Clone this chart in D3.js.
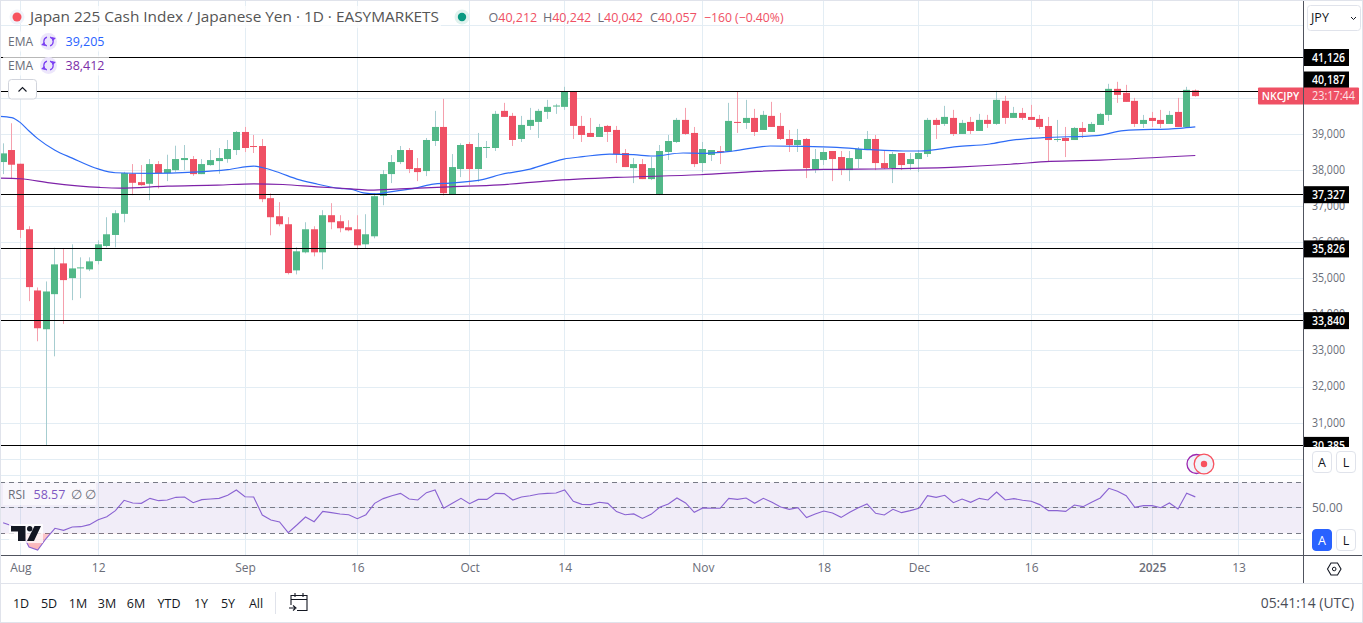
<!DOCTYPE html>
<html><head><meta charset="utf-8">
<script src="https://cdn.jsdelivr.net/npm/d3@7"></script>
<style>
html,body{margin:0;padding:0;background:#fff;overflow:hidden}
svg{display:block}
text{font-family:"Open Sans","Noto Sans",sans-serif}
</style></head><body><svg id="c" width="1363" height="623"></svg>
<script>
// ---- data (prices in JPY, first candle is index -2) ----
const firstIndex=-2;
const opens=[38231,38564,38184,36370,34675,33601,34573,35425,35018,35296,35259,35490,35907,36212,36796,37907,37675,37629,38175,37925,38008,38286,38314,37897,38147,38258,38314,38564,39064,38675,38675,37231,36731,36509,35231,35731,36370,35731,36759,36592,36425,36369,35953,36175,37296,37898,38231,38564,38064,37981,38814,39203,37333,38037,38731,38037,38630,38620,39648,39509,38870,39231,39342,39620,39777,39759,40185,39231,39037,38926,39231,39120,38481,38064,38175,37759,37333,38509,38787,39398,39037,38203,38426,38537,38527,39342,39314,39453,39120,39509,39231,38870,38703,38870,38037,38287,38537,38370,38009,38314,38564,38870,38203,38064,38481,38176,38314,38453,39398,39287,39453,39009,39342,39092,39398,39287,39926,39453,39591,39480,39425,39230,38841,38897,38841,39175,39064,39258,39536,40258,40147,39925,39286,39453,39397,39286,39619,39203,40212];
const closes=[38471,38157,36351,34768,33629,34647,35397,34962,35286,35314,35481,35953,36231,36814,37925,37656,37592,38175,37925,38036,38314,38342,37897,38175,38286,38342,38592,39064,38620,38647,37203,36703,36509,35157,35759,36370,35731,36759,36564,36398,36342,35925,36231,37286,37898,38231,38564,38037,37953,38842,39203,37370,38092,38703,38037,38648,38648,39565,39481,38842,39259,39398,39648,39759,39796,40176,39231,38981,38926,39203,39064,38453,38092,38175,37759,38064,38537,38814,39398,39009,38175,38592,38564,38500,39370,39314,39453,39064,39537,39203,38870,38703,38842,38064,38314,38509,38314,38009,38342,38592,38870,38203,38064,38453,38148,38314,38481,39398,39259,39481,39009,39315,39092,39398,39287,39953,39453,39591,39453,39397,39203,38841,38869,38814,39175,39064,39286,39564,40258,40091,39897,39286,39397,39369,39286,39536,39203,40230,40057];
const highs=[38749,39305,38184,36453,34758,34925,35860,35833,35953,35592,35592,36064,36703,36898,37960,38175,38147,38314,38258,38434,38684,38703,38397,38314,38564,38620,38842,39092,39203,38981,38870,37361,37120,36703,35870,36564,36453,36898,37092,36759,36620,36758,36786,37369,38009,38425,38676,38620,38342,38898,39648,39981,38453,38750,38787,39037,38814,39648,39870,39592,39509,39731,39703,39953,39842,40315,40185,39509,39453,39287,39259,39231,38592,38342,38314,38370,38703,38981,39453,39731,39203,38787,38564,38676,39870,40176,39953,39703,39648,39898,39592,39120,39148,38898,38592,38620,38537,38537,38537,38648,39092,38981,38537,38509,38481,38481,38564,39453,39453,39787,39676,39398,39481,39565,39537,40203,40065,39758,39730,39814,39536,39480,39397,39203,39203,39341,39341,39592,40397,40453,40369,40008,39536,39619,39675,39647,40008,40314,40242];
const lows=[37897,37758,36129,34379,33268,30397,32851,33749,34407,34462,35212,35397,35870,35870,36564,37314,37574,37175,37499,37703,37962,38008,37851,37897,38129,37907,38212,38425,38508,38481,37120,36203,36453,35120,35120,35703,35620,35259,36370,36286,36314,35814,35833,36119,37036,37648,38175,37925,37703,37842,38676,37305,37333,37814,37592,37685,38342,38537,39481,38676,38787,39120,38898,39426,39565,39676,38870,38787,38926,38926,38787,38203,38092,37648,37759,37731,37314,38287,38759,38981,38092,37953,38259,38175,38527,39037,39148,38953,39120,39203,38842,38509,38509,37787,37926,38148,37703,37870,37703,38064,38564,38009,38037,37648,38009,38009,37953,38370,38870,39231,38953,39009,39009,39092,39176,39259,39287,39453,39397,39397,39147,38258,38786,38369,38841,38897,39064,39258,39369,39869,39897,39203,39175,39203,39175,39286,39203,39203,40042];
const rsiValues=[38.3,36,32.6,19.3,16.9,26.1,33.9,32.3,35,35.2,36.8,40.7,43,47.8,55.9,53.8,53.5,57.4,55.6,56.1,58.2,58.5,54,56.4,56.9,57.4,59.8,64,58.7,58.5,44.3,40.4,38.9,30.5,36.5,42.8,39.1,47.2,46.2,45.1,44.6,41.5,44.6,53.5,57.2,59.5,61.3,56.9,56.1,61.9,64,49.6,53.5,57.4,53.2,56.6,56.6,61.3,61.1,56.1,58.5,59.5,60.8,61.3,61.6,64,55.1,52.7,52.5,54.3,53.5,47,44.6,45.2,41.7,44.9,50.4,53,57.7,53.8,46.5,49.9,49.6,49.6,57.4,56.6,57.7,53.5,57.4,54.3,50.6,48.8,50.1,42.3,45.2,47.5,45.9,42.5,46.5,50.1,53,45.7,44.4,48.8,46.2,47.8,49.6,59.5,58.2,59.8,54,56.9,54.3,57.4,56.1,62.4,56.1,57.2,55.9,55.1,52.5,47.8,47.8,47.2,52.2,50.9,54.3,57.7,65.3,62.9,59.5,50.4,51.7,51.7,50.1,53.8,49.1,61.4,58.57];
const emaFastIndex=[-2.4,-1,0,1,2,4,6,9,11,15,20,24,27,28,30,32,34,37,38.2,39.7,41.2,42.8,45.9,47.8,49.7,53.6,55.5,59,62.9,65.1,68.2,71,73.2,76.7,78.7,82.5,86.8,90.6,94.5,98.4,102.2,104.1,108.4,112.2,114.6,118.4,124.6,127.7,134.2,136];
const emaFastValues=[39499,39462,39323,39090,38880,38560,38340,38040,37934,37916,37950,38020,38120,38080,37934,37760,37640,37500,37481,37379,37351,37407,37518,37620,37648,37750,37879,38037,38314,38379,38453,38435,38398,38481,38472,38537,38676,38666,38638,38574,38537,38537,38657,38731,38833,38906,38962,39101,39166,39205];
const emaSlowIndex=[-2.4,0,3.4,9.2,11.5,17,22.8,27,30.4,34.3,38.2,40.5,44,49.7,55.5,61.3,69,78.7,85.3,93,100.7,108.4,114.6,119.2,125,136];
const emaSlowValues=[37786,37768,37656,37527,37508,37564,37592,37629,37610,37545,37490,37453,37490,37546,37601,37712,37805,37879,37972,38027,38046,38092,38170,38249,38286,38412];
const levels=[41126,40187,37327,35826,33840,30385];
const priceTicks=[39000,38000,37000,36000,35000,34000,33000,32000,31000];
const gridPrices=[42000,40000,39000,38000,37000,36000,35000,34000,33000,32000,31000,30000];
const timeTickIndex=[0,9,26,39,52,63,79,93,104,117,131,141];
const timeTickLabels=["Aug","12","Sep","16","Oct","14","Nov","18","Dec","16","2025","13"];
const rangeLabels=["1D","5D","1M","3M","6M","YTD","1Y","5Y","All"];
const ohlcParts=[["O","40,212"],["H","40,242"],["L","40,042"],["C","40,057"]];

// ---- scales ----
const x=d3.scaleLinear().domain([0,136]).range([20.4,1195.3]);
const y=d3.scaleLinear().domain([41126,30000]).range([57.5,459.3]);
const yr=d3.scaleLinear().domain([70,30]).range([482.3,533.3]);
const snap=v=>Math.floor(v)+0.5;
const axisX=1303.5, timeY=555.5;
const GRID="#e3edf4",RED="#ef5064",GREEN="#52b888",REDW="#f5a0ad",GREENW="#a6cdd0",GRAY="#6a6d78",DARK="#131722";

const svg=d3.select("#c");
const defs=svg.append("defs");
defs.append("clipPath").attr("id","pane").append("rect").attr("x",0).attr("y",0).attr("width",axisX).attr("height",timeY);
defs.append("clipPath").attr("id","mainPane").append("rect").attr("x",0).attr("y",0).attr("width",axisX).attr("height",447);
defs.append("clipPath").attr("id","below30").append("rect").attr("x",0).attr("y",yr(30)).attr("width",200).attr("height",30);
const grad=defs.append("linearGradient").attr("id","os").attr("x1",0).attr("x2",0).attr("y1",0).attr("y2",1);
grad.append("stop").attr("offset",0).attr("stop-color","#f23645").attr("stop-opacity",0);
grad.append("stop").attr("offset",1).attr("stop-color","#f23645").attr("stop-opacity",.38);

// grid
const g=svg.append("g");
g.selectAll(".h").data(gridPrices).join("line").attr("x1",0).attr("x2",axisX)
 .attr("y1",d=>snap(y(d))).attr("y2",d=>snap(y(d))).attr("stroke",GRID);
g.selectAll(".rg").data([75,50,25]).join("line").attr("x1",0).attr("x2",axisX)
 .attr("y1",d=>snap(yr(d))).attr("y2",d=>snap(yr(d))).attr("stroke",GRID);
g.selectAll(".v").data(timeTickIndex).join("line").attr("y1",0).attr("y2",timeY)
 .attr("x1",d=>snap(x(d))).attr("x2",d=>snap(x(d))).attr("stroke",GRID);

// RSI band
svg.append("rect").attr("x",0).attr("y",yr(70)).attr("width",axisX).attr("height",yr(30)-yr(70)).attr("fill","#7e57c2").attr("opacity",.11);
svg.selectAll(".dash").data([70,50,30]).join("line").attr("x1",0).attr("x2",axisX)
 .attr("y1",d=>snap(yr(d))).attr("y2",d=>snap(yr(d))).attr("stroke","#787b86").attr("stroke-dasharray","5 4");

// candles
const idx=opens.map((_,i)=>i+firstIndex);
const cg=svg.append("g").attr("clip-path","url(#mainPane)");
cg.selectAll(".w").data(idx).join("line")
 .attr("x1",i=>snap(x(i))).attr("x2",i=>snap(x(i)))
 .attr("y1",(i,k)=>y(highs[k])).attr("y2",(i,k)=>y(lows[k]))
 .attr("stroke",(i,k)=>closes[k]>=opens[k]?GREENW:REDW);
cg.selectAll(".b").data(idx).join("rect")
 .attr("x",i=>Math.floor(x(i))-3).attr("width",7)
 .attr("y",(i,k)=>y(Math.max(opens[k],closes[k])))
 .attr("height",(i,k)=>Math.max(1,Math.abs(y(opens[k])-y(closes[k]))))
 .attr("fill",(i,k)=>closes[k]>=opens[k]?GREEN:RED);

// EMA lines
const lineOf=(xs,vs,color)=>{
 const pts=xs.map((a,k)=>[a,vs[k]]);
 svg.append("path").datum(pts).attr("fill","none").attr("stroke",color).attr("stroke-width",1.2)
  .attr("clip-path","url(#pane)")
  .attr("d",d3.line().x(d=>x(d[0])).y(d=>y(d[1])).curve(d3.curveMonotoneX));
};
lineOf(emaFastIndex,emaFastValues,"#2e6cf6");
lineOf(emaSlowIndex,emaSlowValues,"#7e22a8");

// level lines
svg.selectAll(".lvl").data(levels).join("line").attr("x1",0).attr("x2",axisX)
 .attr("y1",d=>snap(y(d))).attr("y2",d=>snap(y(d))).attr("stroke","#000").attr("stroke-width",1.2);

// RSI line
const rsiPts=rsiValues.map((v,k)=>[k+firstIndex,v]);
svg.append("path").datum(rsiPts).attr("fill","url(#os)").attr("clip-path","url(#below30)")
 .attr("d",d3.area().x(d=>x(d[0])).y0(yr(30)).y1(d=>yr(d[1])));
svg.append("path").datum(rsiPts).attr("fill","none").attr("stroke","#8a63d2").attr("stroke-width",1.1)
 .attr("clip-path","url(#pane)")
 .attr("d",d3.line().x(d=>x(d[0])).y(d=>yr(d[1])));

// TV logo
const logo=svg.append("g");
logo.append("rect").attr("x",9).attr("y",524).attr("width",34).attr("height",19).attr("fill","#fff").attr("opacity",.75);
logo.append("path").attr("fill",DARK).attr("d","M11,526H25.5V541H18V531.5H11Z");
logo.append("circle").attr("fill",DARK).attr("cx",29.7).attr("cy",528.7).attr("r",2.7);
logo.append("path").attr("fill",DARK).attr("d","M34.5,526H41L34,541H27Z");

// axes
svg.append("rect").attr("x",axisX).attr("y",0).attr("width",60).attr("height",timeY).attr("fill","#fff");
const priceAxis=d3.axisRight(y).tickValues(priceTicks).tickSize(0).tickPadding(8.5).tickFormat(d3.format(","));
const pa=svg.append("g").attr("transform",`translate(${axisX},-1)`).call(priceAxis);
pa.select(".domain").remove();
pa.selectAll("text").attr("font-size",12).attr("fill",GRAY).attr("textLength",33).attr("lengthAdjust","spacingAndGlyphs");
const rsiAxis=d3.axisRight(yr).tickValues([50]).tickSize(0).tickPadding(8.5).tickFormat(d3.format(".2f"));
const ra=svg.append("g").attr("transform",`translate(${axisX},0)`).call(rsiAxis);
ra.select(".domain").remove();
ra.selectAll("text").attr("font-size",12).attr("fill",GRAY);

const tickLabel=d3.scaleOrdinal().domain(timeTickIndex).range(timeTickLabels);
const timeAxis=d3.axisBottom(x).tickValues(timeTickIndex).tickSize(0).tickPadding(8).tickFormat(d=>tickLabel(d));
const ta=svg.append("g").attr("transform",`translate(0,${timeY})`).call(timeAxis);
ta.select(".domain").remove();
ta.selectAll("text").attr("font-size",12).attr("fill",GRAY)
  .attr("font-weight",d=>tickLabel(d)==="2025"?600:400);

// level tags (second one is pushed up by the live price tag)
const tagY=d=>d===40187?80:y(d);
const tags=svg.append("g");
levels.forEach(v=>{
 tags.append("rect").attr("x",axisX).attr("y",tagY(v)-8.5).attr("width",45.5).attr("height",17).attr("fill","#000");
 tags.append("text").attr("x",axisX+8.5).attr("y",tagY(v)+4.3).attr("font-size",12).attr("font-weight",600).attr("fill","#fff")
  .attr("textLength",33).attr("lengthAdjust","spacingAndGlyphs").text(d3.format(",")(v));
});
const py=y(closes[closes.length-1]);
tags.append("rect").attr("x",1258).attr("y",py-8.5).attr("width",45.5).attr("height",17).attr("rx",1).attr("fill",RED);
tags.append("rect").attr("x",axisX).attr("y",py-8.5).attr("width",55.5).attr("height",17).attr("rx",1).attr("fill",RED);
tags.append("text").attr("x",1261.7).attr("y",py+4.3).attr("font-size",11.5).attr("font-weight",600).attr("fill","#fff")
 .attr("textLength",37.5).attr("lengthAdjust","spacingAndGlyphs").text("NKCJPY");
tags.append("text").attr("x",axisX+8.5).attr("y",py+4.3).attr("font-size",12).attr("fill","#fde3e6")
 .attr("textLength",43).attr("lengthAdjust","spacingAndGlyphs").text("23:17:44");

// pane covers / borders
svg.append("rect").attr("x",axisX+.5).attr("y",447).attr("width",60).attr("height",timeY-447).attr("fill","#fff");
ra.raise();
const line=(x1,y1,x2,y2,c)=>svg.append("line").attr("x1",x1).attr("y1",y1).attr("x2",x2).attr("y2",y2).attr("stroke",c);
line(axisX,0,axisX,583,"#50535e");
line(0,timeY,1363,timeY,"#50535e");
line(0,583.5,1363,583.5,"#e0e3eb");
line(0,622.5,1363,622.5,"#e0e3eb");
line(0,.5,1363,.5,"#e0e3eb");
line(.5,0,.5,623,"#e0e3eb");
line(1362.5,0,1362.5,623,"#e0e3eb");

// header legend
const hdr=svg.append("g");
hdr.append("circle").attr("cx",17).attr("cy",17).attr("r",7.5).attr("fill","#f0f3fa");
hdr.append("circle").attr("cx",17).attr("cy",17).attr("r",4.5).attr("fill","#f7525f");
hdr.append("rect").attr("x",28).attr("y",6).attr("width",413).attr("height",22).attr("fill","#fff").attr("opacity",.7);
hdr.append("text").attr("x",30).attr("y",22).attr("font-size",14.8).attr("fill","#555")
 .attr("textLength",409).attr("lengthAdjust","spacingAndGlyphs").text("Japan 225 Cash Index / Japanese Yen · 1D · EASYMARKETS");
hdr.append("circle").attr("cx",462).attr("cy",17).attr("r",7.5).attr("fill","#e0f2ee");
hdr.append("circle").attr("cx",462).attr("cy",17).attr("r",4.2).attr("fill","#089981");
const ohlcStart=[488.5,543,597.5,650];
ohlcParts.forEach((p,k)=>{
 const t=hdr.append("text").attr("x",ohlcStart[k]).attr("y",21.5).attr("font-size",12.5);
 t.append("tspan").attr("fill",GRAY).text(p[0]);
 t.append("tspan").attr("fill",RED).text(p[1]);
});
hdr.append("text").attr("x",704).attr("y",21.5).attr("font-size",12.5).attr("fill",RED)
 .attr("textLength",79.5).attr("lengthAdjust","spacingAndGlyphs").text("−160 (−0.40%)");

// EMA legend rows
function refreshIcon(cx,cy){
 const s=svg.append("g").attr("transform",`translate(${cx},${cy})`);
 s.append("circle").attr("r",8.5).attr("fill","#ece6fb");
 const arc=d3.arc().innerRadius(4.1).outerRadius(5.3);
 s.append("path").attr("fill","#7a3ff2").attr("d",arc({startAngle:0.35,endAngle:2.8}));
 s.append("path").attr("fill","#7a3ff2").attr("d",arc({startAngle:3.5,endAngle:5.95}));
 s.append("path").attr("fill","#7a3ff2").attr("d","M3.2,-4.6L7.4,-3.4L4.4,-0.6Z");
 s.append("path").attr("fill","#7a3ff2").attr("d","M-3.2,4.6L-7.4,3.4L-4.4,0.6Z");
}
[[41.5,"39,205","#2962ff"],[65.5,"38,412","#7b2ea8"]].forEach(r=>{
 svg.append("rect").attr("x",3).attr("y",r[0]-10).attr("width",106).attr("height",20).attr("fill","#fff").attr("opacity",.72);
 svg.append("text").attr("x",8).attr("y",r[0]+4.3).attr("font-size",12).attr("fill",GRAY).text("EMA");
 refreshIcon(48.5,r[0]);
 svg.append("text").attr("x",65.5).attr("y",r[0]+4.3).attr("font-size",12.5).attr("fill",r[2]).text(r[1]);
});
// collapse button
svg.append("rect").attr("x",8.5).attr("y",79.5).attr("width",28).attr("height",19.5).attr("rx",3).attr("fill","#fff").attr("stroke","#d1d4dc");
svg.append("path").attr("d","M18.5,91.5L22.5,87.5L26.5,91.5").attr("fill","none").attr("stroke",DARK).attr("stroke-width",1.1);

// RSI legend
svg.append("rect").attr("x",3).attr("y",483).attr("width",93).attr("height",22).attr("fill","#fff").attr("opacity",.55);
svg.append("text").attr("x",8).attr("y",498.5).attr("font-size",12).attr("fill",GRAY).text("RSI");
svg.append("text").attr("x",33.5).attr("y",498.5).attr("font-size",12.5).attr("fill","#7e57c2").text(rsiValues[rsiValues.length-1].toFixed(2));
svg.append("text").attr("x",76).attr("y",498.5).attr("text-anchor","middle").attr("font-size",12.5).attr("fill",GRAY).text("∅");
svg.append("text").attr("x",90).attr("y",498.5).attr("text-anchor","middle").attr("font-size",12.5).attr("fill",GRAY).text("∅");

// JPY select
svg.append("rect").attr("x",1307.5).attr("y",5.5).attr("width",53).attr("height",25).attr("rx",3).attr("fill","#fff").attr("stroke","#e0e3eb");
svg.append("text").attr("x",1311).attr("y",22).attr("font-size",12.5).attr("fill",DARK).text("JPY");
svg.append("path").attr("d","M1351,17L1353.5,19.5L1356,17").attr("fill","none").attr("stroke",DARK);

// marker circles
svg.append("circle").attr("cx",1196.5).attr("cy",464).attr("r",9.5).attr("fill","#f0f3fa").attr("stroke","#9c27b0").attr("stroke-width",1.3);
svg.append("circle").attr("cx",1204).attr("cy",464).attr("r",9.8).attr("fill","#f0f3fa").attr("stroke","#f7525f").attr("stroke-width",1.3);
svg.append("circle").attr("cx",1204).attr("cy",464).attr("r",3.2).attr("fill","#f7525f");

// A / L buttons
function btn(x0,y0,label,on){
 svg.append("rect").attr("x",x0+.5).attr("y",y0+.5).attr("width",19).attr("height",21).attr("rx",3.5)
  .attr("fill",on?"#2962ff":"#fff").attr("stroke",on?"#2962ff":"#e0e3eb");
 svg.append("text").attr("x",x0+10).attr("y",y0+15.5).attr("text-anchor","middle").attr("font-size",12.5).attr("fill",on?"#fff":DARK).text(label);
}
btn(1312,451,"A",false);btn(1336,451,"L",false);
btn(1312,529,"A",true);btn(1336,529,"L",false);

// settings hexagon
svg.append("path").attr("d","M1327.5,569L1331,563H1337.5L1341,569L1337.5,575H1331Z").attr("fill","none").attr("stroke",DARK).attr("stroke-width",1.1);
svg.append("circle").attr("cx",1334.2).attr("cy",569).attr("r",1.8).attr("fill","none").attr("stroke",DARK);

// bottom toolbar
const rangeCenters=[21,49,78,107,136,169,201,228,256];
svg.selectAll(".rb").data(rangeLabels).join("text").attr("x",(d,i)=>rangeCenters[i]).attr("y",607.5)
 .attr("text-anchor","middle").attr("font-size",12.5).attr("fill",DARK).text(d=>d);
line(275.5,592,275.5,614,"#e0e3eb");
svg.append("path").attr("fill","none").attr("stroke",DARK).attr("stroke-width",1.1)
 .attr("d","M291,605V595.5H307V610.5H297M291,599.5H307M295,593V597M303,593V597M289,608H295M293,605.5L296,608L293,610.5");
svg.append("text").attr("x",1354).attr("y",607.8).attr("text-anchor","end").attr("font-size",13.9).attr("fill","#4a4d57").text("05:41:14 (UTC)");
</script></body></html>
